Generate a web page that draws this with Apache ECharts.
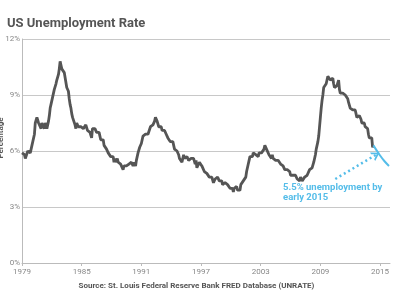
<!DOCTYPE html>
<html>
<head>
<meta charset="utf-8">
<script src="https://cdn.jsdelivr.net/npm/echarts@6/dist/echarts.min.js"></script>
<style>
  html, body { margin: 0; padding: 0; background: #fff; }
  #chart { width: 393px; height: 299px; }
</style>
</head>
<body>
<div id="chart"></div>
<script>
// monthly US unemployment rate (%), starting Jan 1979
const startYear = 1979;
const rates = [
    5.9, 5.9, 5.8, 5.8, 5.6, 5.7, 5.7, 6.0, 5.9, 6.0, 5.9, 6.0,
    6.3, 6.3, 6.3, 6.9, 7.5, 7.6, 7.8, 7.7, 7.5, 7.5, 7.5, 7.2,
    7.5, 7.4, 7.4, 7.2, 7.5, 7.5, 7.2, 7.4, 7.6, 7.9, 8.3, 8.5,
    8.6, 8.9, 9.0, 9.3, 9.4, 9.6, 9.8, 9.8, 10.1, 10.4, 10.8, 10.8,
    10.4, 10.4, 10.3, 10.2, 10.1, 10.1, 9.4, 9.5, 9.2, 8.8, 8.5, 8.3,
    8.0, 7.8, 7.8, 7.7, 7.4, 7.2, 7.5, 7.5, 7.3, 7.4, 7.2, 7.3,
    7.3, 7.2, 7.2, 7.3, 7.2, 7.4, 7.4, 7.1, 7.1, 7.1, 7.0, 7.0,
    6.7, 7.2, 7.2, 7.1, 7.2, 7.2, 7.0, 6.9, 7.0, 7.0, 6.9, 6.6,
    6.6, 6.6, 6.6, 6.3, 6.3, 6.2, 6.1, 6.0, 5.9, 6.0, 5.8, 5.7,
    5.7, 5.7, 5.7, 5.4, 5.6, 5.4, 5.4, 5.6, 5.4, 5.4, 5.3, 5.3,
    5.4, 5.2, 5.0, 5.2, 5.2, 5.3, 5.2, 5.2, 5.3, 5.3, 5.4, 5.4,
    5.4, 5.3, 5.2, 5.4, 5.4, 5.2, 5.5, 5.7, 5.9, 5.9, 6.2, 6.3,
    6.4, 6.6, 6.8, 6.7, 6.9, 6.9, 6.8, 6.9, 6.9, 7.0, 7.0, 7.3,
    7.3, 7.4, 7.4, 7.4, 7.6, 7.8, 7.7, 7.6, 7.6, 7.3, 7.4, 7.4,
    7.3, 7.1, 7.0, 7.1, 7.1, 7.0, 6.9, 6.8, 6.7, 6.8, 6.6, 6.5,
    6.6, 6.6, 6.5, 6.4, 6.1, 6.1, 6.1, 6.0, 5.9, 5.8, 5.6, 5.5,
    5.6, 5.4, 5.4, 5.8, 5.6, 5.6, 5.7, 5.7, 5.6, 5.5, 5.6, 5.6,
    5.6, 5.5, 5.5, 5.6, 5.6, 5.3, 5.5, 5.1, 5.2, 5.2, 5.4, 5.4,
    5.3, 5.2, 5.2, 5.1, 4.9, 5.0, 4.9, 4.8, 4.9, 4.7, 4.6, 4.7,
    4.6, 4.6, 4.7, 4.3, 4.4, 4.5, 4.5, 4.5, 4.6, 4.5, 4.4, 4.4,
    4.3, 4.4, 4.2, 4.3, 4.2, 4.3, 4.3, 4.2, 4.2, 4.1, 4.1, 4.0,
    4.0, 4.1, 4.0, 3.8, 4.0, 4.0, 4.0, 4.1, 3.9, 3.9, 3.9, 3.9,
    4.2, 4.2, 4.3, 4.4, 4.3, 4.5, 4.6, 4.9, 5.0, 5.3, 5.5, 5.7,
    5.7, 5.7, 5.7, 5.9, 5.8, 5.8, 5.8, 5.7, 5.7, 5.7, 5.9, 6.0,
    5.8, 5.9, 5.9, 6.0, 6.1, 6.3, 6.2, 6.1, 6.1, 6.0, 5.8, 5.7,
    5.7, 5.6, 5.8, 5.6, 5.6, 5.6, 5.5, 5.4, 5.4, 5.5, 5.4, 5.4,
    5.3, 5.4, 5.2, 5.2, 5.1, 5.0, 5.0, 4.9, 5.0, 5.0, 5.0, 4.9,
    4.7, 4.8, 4.7, 4.7, 4.6, 4.6, 4.7, 4.7, 4.5, 4.4, 4.5, 4.4,
    4.6, 4.5, 4.4, 4.5, 4.4, 4.6, 4.7, 4.6, 4.7, 4.7, 4.7, 5.0,
    5.0, 4.9, 5.1, 5.0, 5.4, 5.6, 5.8, 6.1, 6.1, 6.5, 6.8, 7.3,
    7.8, 8.3, 8.7, 9.0, 9.4, 9.5, 9.5, 9.6, 9.8, 10.0, 9.9, 9.9,
    9.8, 9.8, 9.9, 9.9, 9.6, 9.4, 9.4, 9.5, 9.5, 9.4, 9.8, 9.3,
    9.1, 9.0, 9.0, 9.1, 9.0, 9.1, 9.0, 9.0, 9.0, 8.8, 8.6, 8.5,
    8.3, 8.3, 8.2, 8.2, 8.2, 8.2, 8.2, 8.0, 7.8, 7.8, 7.7, 7.9,
    8.0, 7.7, 7.5, 7.6, 7.5, 7.5, 7.3, 7.2, 7.2, 7.2, 6.9, 6.7,
    6.6, 6.7, 6.7, 6.2, 6.3
];

// projected tail drawn in blue
const projYears = [2014.33, 2014.95, 2015.45, 2015.9];
const projRates = [6.3, 5.8, 5.45, 5.2];

const arrowFrom = [2010.5, 4.5];
const arrowTo = [2014.6, 5.8];

const grey = '#555';
const blue = '#55bde9';

const chart = echarts.init(document.getElementById('chart'));

chart.setOption({
    animation: false,
    title: {
        text: 'US Unemployment Rate',
        left: 2,
        top: 12,
        textStyle: {color: grey, fontSize: 13, fontWeight: 'bold', fontFamily: 'Roboto'},
    },
    grid: {left: 22, right: 3, top: 39, bottom: 36},
    xAxis: {
        type: 'value',
        min: 1979,
        max: 2016,
        interval: 6,
        axisLine: {lineStyle: {color: '#bbb', width: 1}},
        axisTick: {show: true, length: 3, lineStyle: {color: '#bbb'}},
        axisLabel: {
            color: '#888',
            fontSize: 8,
            fontFamily: 'Roboto',
            margin: 5,
            showMaxLabel: false,
            formatter: (v) => `${v}`,
        },
        splitLine: {show: false},
    },
    yAxis: {
        type: 'value',
        min: 0,
        max: 12,
        interval: 3,
        axisLine: {show: true, lineStyle: {color: '#bbb'}},
        axisTick: {show: false},
        axisLabel: {
            color: '#888',
            fontSize: 8,
            fontFamily: 'Roboto',
            margin: 2,
            formatter: (v) => `${v}%`,
        },
        splitLine: {lineStyle: {color: '#c8c8c8', width: 1}},
    },
    series: [
        {
            type: 'line',
            showSymbol: false,
            data: rates.map((v, i) => [startYear + i / 12, v]),
            lineStyle: {color: grey, width: 2.8},
            z: 3,
        },
        {
            type: 'line',
            smooth: true,
            showSymbol: false,
            data: projYears.map((y, i) => [y, projRates[i]]),
            lineStyle: {color: blue, width: 2},
            z: 4,
            markLine: {
                silent: true,
                symbol: ['none', 'path://M0,10 L5,0 L10,10 L8,10 L5,4 L2,10 Z'],
                symbolSize: [10, 8],
                label: {show: false},
                lineStyle: {color: blue, type: [2, 3], width: 2.5},
                data: [[{coord: arrowFrom}, {coord: arrowTo}]],
            },
        },
    ],
    graphic: [
        {
            // y-axis name, partly cut off at the left edge like the original
            type: 'text',
            x: 1,
            y: 138,
            rotation: Math.PI / 2,
            style: {
                text: 'Percentage',
                fill: grey,
                font: 'bold 8px Roboto',
                align: 'center',
                verticalAlign: 'middle',
            },
        },
        {
            type: 'text',
            left: 283,
            top: 183,
            style: {
                text: '5.5% unemployment by\nearly 2015',
                fill: blue,
                font: 'bold 9.5px Roboto',
                lineHeight: 10,
            },
        },
        {
            type: 'text',
            left: 'center',
            top: 282,
            style: {
                text: 'Source: St. Louis Federal Reserve Bank FRED Database (UNRATE)',
                fill: grey,
                font: 'bold 8px Roboto',
            },
        },
    ],
});
</script>
</body>
</html>
